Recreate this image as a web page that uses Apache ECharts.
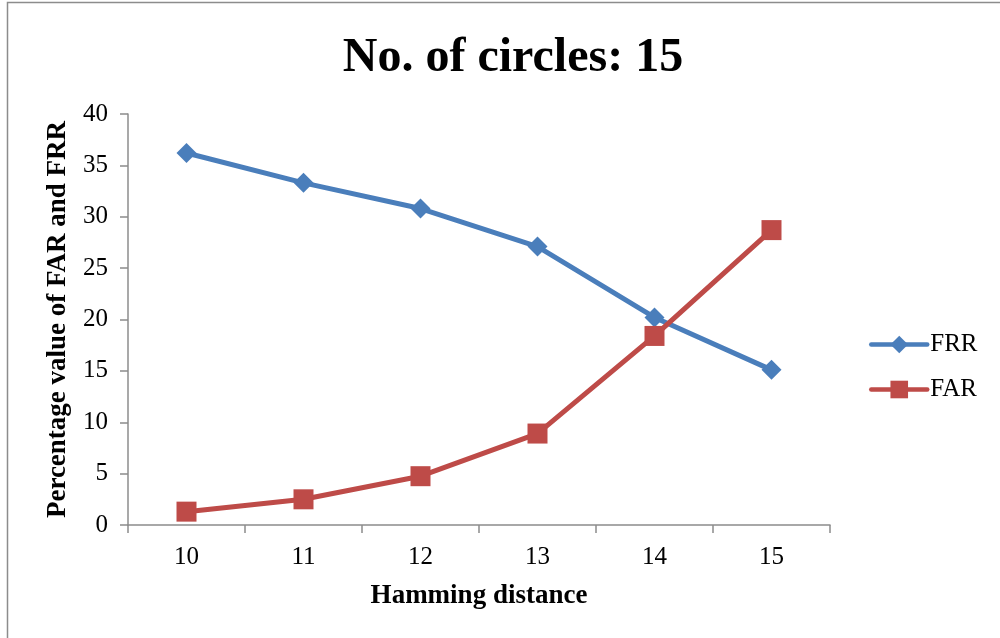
<!DOCTYPE html>
<html>
<head>
<meta charset="utf-8">
<script src="https://cdn.jsdelivr.net/npm/echarts@6/dist/echarts.min.js"></script>
<style>
html,body{margin:0;padding:0;background:#fff;}
#c{width:1000px;height:638px;}
</style>
</head>
<body>
<div id="c"></div>
<script>
const categories = ['10','11','12','13','14','15'];
const frr = [36.2, 33.3, 30.8, 27.1, 20.2, 15.1];
const far = [1.3, 2.5, 4.75, 8.9, 18.4, 28.7];
const yTicks = [0, 5, 10, 15, 20, 25, 30, 35, 40];

const FONT = '"Liberation Serif", "Times New Roman", serif';
const chart = echarts.init(document.getElementById('c'), null, {renderer: 'canvas'});
chart.setOption({
  animation: false,
  backgroundColor: '#fff',
  graphic: [{
    type: 'rect', shape: {x: 7.5, y: 2.5, width: 1010, height: 660},
    style: {fill: 'none', stroke: '#8c8c8c', lineWidth: 1.5}, silent: true, z: 100
  }],
  title: {
    text: 'No. of circles: 15', left: 508, top: 30, textAlign: 'center',
    textStyle: {fontFamily: FONT, fontWeight: 'bold', fontSize: 48, color: '#000'}
  },
  legend: {
    orient: 'vertical', left: 864, top: 327, itemGap: 20, itemWidth: 56, itemHeight: 22,
    lineStyle: {width: 4.5, cap: 'round'},
    textStyle: {fontFamily: FONT, fontSize: 25, color: '#000', padding: [0, 0, 0, -2]},
    data: ['FRR', 'FAR']
  },
  grid: {left: 128, right: 170, top: 114, bottom: 113},
  xAxis: {
    type: 'category', data: categories, boundaryGap: true,
    name: 'Hamming distance', nameLocation: 'middle', nameGap: 58,
    nameTextStyle: {fontFamily: FONT, fontWeight: 'bold', fontSize: 27, color: '#000'},
    axisLine: {lineStyle: {color: '#8c8c8c', width: 1.5}},
    axisTick: {show: true, length: 8, alignWithLabel: false, lineStyle: {color: '#8c8c8c', width: 1.5}},
    axisLabel: {fontFamily: FONT, fontSize: 25, color: '#000', margin: 20}
  },
  yAxis: {
    type: 'value', min: 0, max: 40, interval: 5,
    name: 'Percentage value of FAR and FRR', nameLocation: 'middle', nameGap: 56,
    nameTextStyle: {fontFamily: FONT, fontWeight: 'bold', fontSize: 27, color: '#000'},
    axisLine: {show: true, lineStyle: {color: '#8c8c8c', width: 1.5}},
    axisTick: {show: true, length: 8, lineStyle: {color: '#8c8c8c', width: 1.5}},
    splitLine: {show: false},
    axisLabel: {fontFamily: FONT, fontSize: 25, color: '#000', margin: 20,
      formatter: v => yTicks.includes(v) ? String(v) : ''}
  },
  series: [
    {
      name: 'FRR', type: 'line', data: frr, symbol: 'diamond', symbolSize: 20,
      lineStyle: {color: '#4a7ebb', width: 5}, itemStyle: {color: '#4a7ebb'}
    },
    {
      name: 'FAR', type: 'line', data: far, symbol: 'rect', symbolSize: 20,
      lineStyle: {color: '#be4b48', width: 5}, itemStyle: {color: '#be4b48'}
    }
  ]
});
</script>
</body>
</html>
